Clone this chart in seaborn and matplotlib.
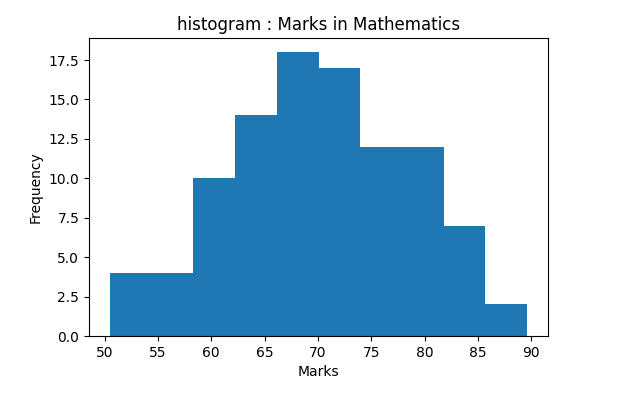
import numpy as np
import matplotlib
matplotlib.use('Agg')
import matplotlib.pyplot as plt
import seaborn as sns

# histogram: 10 bins between ~50.5 and ~89.6
bin_edges = [50.5, 54.41, 58.32, 62.23, 66.14, 70.05, 73.96, 77.87, 81.78, 85.69, 89.6]
counts = [4, 4, 10, 14, 18, 17, 12, 12, 7, 2]

centers = [(a + b) / 2 for a, b in zip(bin_edges[:-1], bin_edges[1:])]

plt.rcParams['font.family'] = ['DejaVu Sans']

fig = plt.figure(figsize=(6.26, 4.0), dpi=100)
ax = fig.add_axes([89 / 626, 1 - 336 / 400, (548 - 89) / 626, (336 - 38) / 400])

# step element draws one filled polygon, so no seams between bars
sns.histplot(x=centers, weights=counts, bins=bin_edges, color='#1f77b4',
             element='step', fill=True, alpha=1, linewidth=0, ax=ax)

ax.set_title('histogram : Marks in Mathematics', fontsize=12)
ax.set_xlabel('Marks', fontsize=10)
ax.set_ylabel('Frequency', fontsize=10)
ax.set_xticks([50, 55, 60, 65, 70, 75, 80, 85, 90])
ax.set_yticks(np.arange(0, 18, 2.5))
ax.tick_params(labelsize=10)
ax.margins(x=0.05, y=0.05)

fig.savefig('out.png', dpi=100)
